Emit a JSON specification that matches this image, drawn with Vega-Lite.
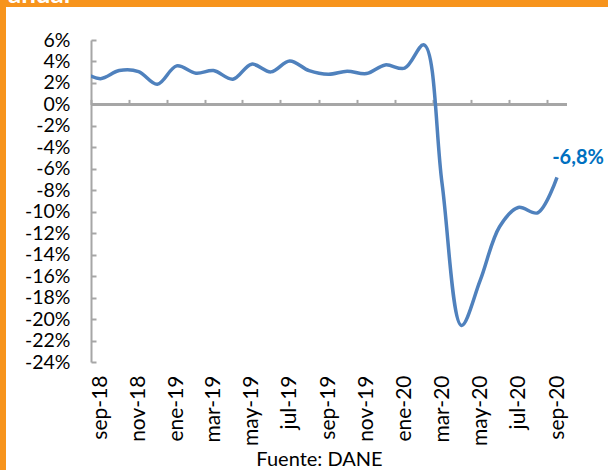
{
  "$schema": "https://vega.github.io/schema/vega-lite/v6.json",
  "padding": 0,
  "background": "white",
  "config": {
    "view": {"stroke": null},
    "font": "Lato",
    "axis": {"labelOverlap": false, "labelSeparation": 0},
    "axisY": {"labelOverlap": false, "labelFlush": false}
  },
  "datasets": {
    "ise": [
      {"mes": "2018-08-01", "valor": 3.1},
      {"mes": "2018-09-01", "valor": 2.4},
      {"mes": "2018-10-01", "valor": 3.15},
      {"mes": "2018-11-01", "valor": 3.06},
      {"mes": "2018-12-01", "valor": 1.88},
      {"mes": "2019-01-01", "valor": 3.59},
      {"mes": "2019-02-01", "valor": 2.91},
      {"mes": "2019-03-01", "valor": 3.15},
      {"mes": "2019-04-01", "valor": 2.35},
      {"mes": "2019-05-01", "valor": 3.75},
      {"mes": "2019-06-01", "valor": 3.03},
      {"mes": "2019-07-01", "valor": 4.05},
      {"mes": "2019-08-01", "valor": 3.15},
      {"mes": "2019-09-01", "valor": 2.81},
      {"mes": "2019-10-01", "valor": 3.09},
      {"mes": "2019-11-01", "valor": 2.87},
      {"mes": "2019-12-01", "valor": 3.68},
      {"mes": "2020-01-01", "valor": 3.37},
      {"mes": "2020-02-01", "valor": 5.55},
      {"mes": "2020-03-01", "valor": -7.4},
      {"mes": "2020-04-01", "valor": -20.6},
      {"mes": "2020-05-01", "valor": -16.4},
      {"mes": "2020-06-01", "valor": -11.4},
      {"mes": "2020-07-01", "valor": -9.6},
      {"mes": "2020-08-01", "valor": -10.1},
      {"mes": "2020-09-01", "valor": -6.8}
    ]
  },
  "vconcat": [
    {
      "width": 608,
      "height": 7,
      "view": {"fill": "#F7941D", "stroke": null},
      "data": {"values": [{"titulo": "anual"}]},
      "mark": {"type": "text", "align": "left", "baseline": "alphabetic", "x": 8, "y": 3, "fontSize": 26, "fontWeight": "bold", "color": "white", "clip": true},
      "encoding": {"text": {"field": "titulo"}}
    },
    {
      "spacing": 85,
      "bounds": "flush",
      "hconcat": [
        {
          "width": 6,
          "height": 463,
          "view": {"fill": "#F7941D", "stroke": null},
          "data": {"values": [{"titulo": ""}]},
          "mark": {"type": "text"},
          "encoding": {"text": {"field": "titulo"}}
        },
        {
          "width": 476,
          "height": 355,
          "data": {"name": "ise"},
          "layer": [
            {
              "mark": {"type": "rule", "color": "#A6A6A6", "strokeWidth": 2},
              "encoding": {
                "y": {
                  "datum": 0,
                  "type": "quantitative",
                  "scale": {"domain": [-24, 6], "nice": false, "zero": false, "range": [355, 33]},
                  "axis": null
                }
              }
            },
            {
              "mark": {"type": "line", "interpolate": "catmull-rom", "color": "#4F81BD", "strokeWidth": 3.5, "clip": true},
              "encoding": {
                "x": {
                  "field": "mes",
                  "type": "temporal",
                  "scale": {
                    "type": "utc",
                    "domain": [
                      {"year": 2018, "month": 8, "date": 16, "hours": 20, "utc": true},
                      {"year": 2020, "month": 9, "date": 17, "hours": 0, "utc": true}
                    ]
                  },
                  "axis": {
                    "orient": "bottom",
                    "values": [
                      {"year": 2018, "month": 9, "date": 1, "utc": true},
                      {"year": 2018, "month": 11, "date": 1, "utc": true},
                      {"year": 2019, "month": 1, "date": 1, "utc": true},
                      {"year": 2019, "month": 3, "date": 1, "utc": true},
                      {"year": 2019, "month": 5, "date": 1, "utc": true},
                      {"year": 2019, "month": 7, "date": 1, "utc": true},
                      {"year": 2019, "month": 9, "date": 1, "utc": true},
                      {"year": 2019, "month": 11, "date": 1, "utc": true},
                      {"year": 2020, "month": 1, "date": 1, "utc": true},
                      {"year": 2020, "month": 3, "date": 1, "utc": true},
                      {"year": 2020, "month": 5, "date": 1, "utc": true},
                      {"year": 2020, "month": 7, "date": 1, "utc": true},
                      {"year": 2020, "month": 9, "date": 1, "utc": true}
                    ],
                    "labelExpr": "['ene','feb','mar','abr','may','jun','jul','ago','sep','oct','nov','dic'][utcmonth(datum.value)] + '-' + utcFormat(datum.value, '%y')",
                    "labelAngle": -90,
                    "labelAlign": "right",
                    "labelBaseline": "middle",
                    "labelFontSize": 21,
                    "labelColor": "#000000",
                    "labelPadding": 13,
                    "labelOverlap": false,
                    "labelFlush": false,
                    "ticks": false,
                    "domain": false,
                    "grid": false,
                    "title": "Fuente: DANE",
                    "titleFontSize": 20,
                    "titleFontWeight": "normal",
                    "titleColor": "#000000",
                    "titlePadding": 4,
                    "titleX": 228,
                    "titleAlign": "center"
                  }
                },
                "y": {
                  "field": "valor",
                  "type": "quantitative",
                  "scale": {"domain": [-24, 6], "nice": false, "zero": false, "range": [355, 33]},
                  "axis": {
                    "values": [-24, -22, -20, -18, -16, -14, -12, -10, -8, -6, -4, -2, 0, 2, 4, 6],
                    "labelExpr": "toString(datum.value) + '%'",
                    "labelFontSize": 19.5,
                    "labelColor": "#000000",
                    "labelPadding": 26,
                    "labelOverlap": false,
                    "labelSeparation": 0,
                    "labelFlush": false,
                    "tickSize": -5,
                    "tickWidth": 2,
                    "tickColor": "#A6A6A6",
                    "domainColor": "#A6A6A6",
                    "domainWidth": 2,
                    "grid": false,
                    "title": null
                  }
                }
              }
            },
            {
              "transform": [
                {"filter": "time(toDate(datum.mes)) == utc(2020, 8, 1)"},
                {"calculate": "replace(toString(datum.valor), '.', ',') + '%'", "as": "etiqueta"}
              ],
              "mark": {"type": "text", "align": "center", "baseline": "middle", "dx": 21, "dy": -19, "fontSize": 20, "fontWeight": "bold", "color": "#0070C0"},
              "encoding": {
                "x": {
                  "field": "mes",
                  "type": "temporal",
                  "axis": {
                    "orient": "top",
                    "offset": -97.4,
                    "values": [
                      {"year": 2018, "month": 8, "date": 16, "hours": 20, "utc": true},
                      {"year": 2018, "month": 10, "date": 16, "hours": 12, "utc": true},
                      {"year": 2018, "month": 12, "date": 16, "hours": 12, "utc": true},
                      {"year": 2019, "month": 2, "date": 15, "utc": true},
                      {"year": 2019, "month": 4, "date": 16, "utc": true},
                      {"year": 2019, "month": 6, "date": 16, "utc": true},
                      {"year": 2019, "month": 8, "date": 16, "hours": 12, "utc": true},
                      {"year": 2019, "month": 10, "date": 16, "hours": 12, "utc": true},
                      {"year": 2019, "month": 12, "date": 16, "hours": 12, "utc": true},
                      {"year": 2020, "month": 2, "date": 15, "hours": 12, "utc": true},
                      {"year": 2020, "month": 4, "date": 16, "utc": true},
                      {"year": 2020, "month": 6, "date": 16, "utc": true},
                      {"year": 2020, "month": 8, "date": 16, "hours": 12, "utc": true}
                    ],
                    "labels": false,
                    "domain": false,
                    "ticks": true,
                    "tickSize": 5,
                    "tickWidth": 2,
                    "tickColor": "#A6A6A6",
                    "grid": false,
                    "title": null
                  }
                },
                "y": {"field": "valor", "type": "quantitative", "axis": null},
                "text": {"field": "etiqueta"}
              }
            }
          ],
          "resolve": {"axis": {"x": "independent", "y": "independent"}}
        }
      ]
    }
  ],
  "spacing": 0
}
